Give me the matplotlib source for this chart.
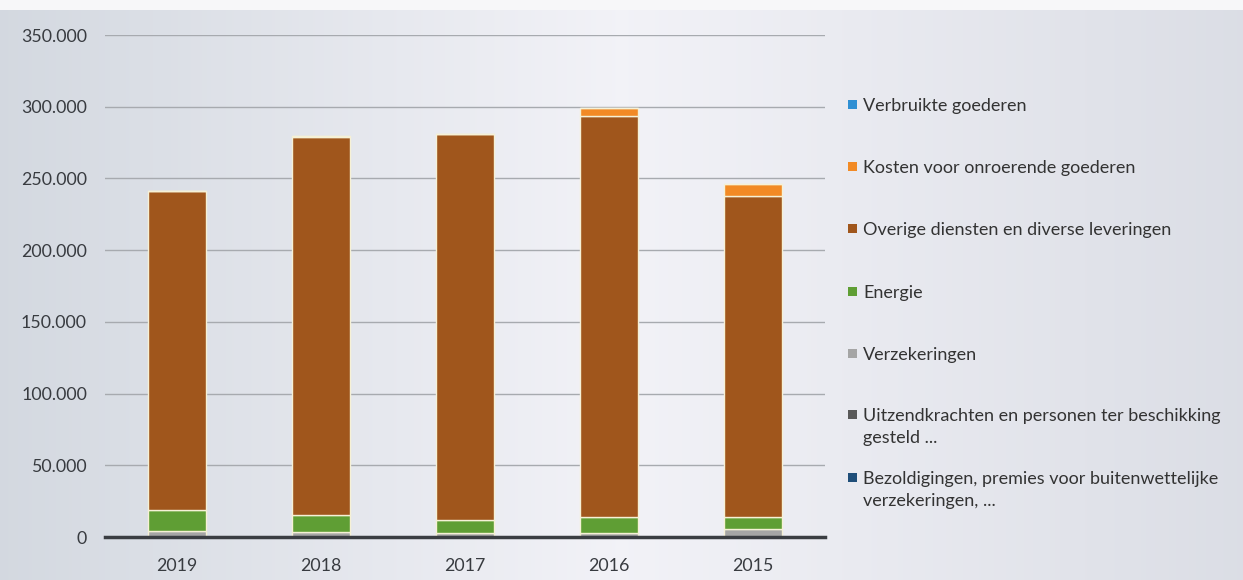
import matplotlib
matplotlib.use("Agg")
import matplotlib.pyplot as plt
from matplotlib.patches import Rectangle
from matplotlib.ticker import FuncFormatter
import numpy as np

plt.rcParams['font.family'] = ['Lato', 'DejaVu Sans']

years = ["2019", "2018", "2017", "2016", "2015"]

# Series listed from the bottom of each stack upward
series_names = [
    "Bezoldigingen, premies voor buitenwettelijke\nverzekeringen, ...",
    "Uitzendkrachten en personen ter beschikking\ngesteld ...",
    "Verzekeringen",
    "Energie",
    "Overige diensten en diverse leveringen",
    "Kosten voor onroerende goederen",
    "Verbruikte goederen",
]
series_colors = ["#1f4e79", "#595959", "#a5a5a5", "#5f9e34", "#a0561c", "#f28a25", "#2f8fd3"]

bezoldigingen = [0, 0, 0, 0, 0]
uitzendkrachten = [0, 0, 0, 0, 0]
verzekeringen = [4500, 3500, 3000, 3000, 5500]
energie = [14300, 11800, 8900, 11200, 8700]
overige = [222500, 263700, 269000, 279000, 223500]
onroerend = [0, 600, 0, 6000, 8500]
verbruikt = [0, 0, 0, 0, 0]

values = [bezoldigingen, uitzendkrachten, verzekeringen, energie, overige, onroerend, verbruikt]

fig = plt.figure(figsize=(12.43, 5.8), dpi=100)
fig.patch.set_facecolor("#e4e7ec")

# Soft paper-like shading behind the chart
bg = fig.add_axes([0, 0, 1, 1], zorder=-10)
bg.axis("off")
xs = np.linspace(0, 1, 400)
left = np.array([0.83, 0.85, 0.88])
mid = np.array([0.95, 0.95, 0.97])
right = np.array([0.86, 0.87, 0.90])
w = np.clip(xs / 0.5, 0, 1)[:, None]
w2 = np.clip((xs - 0.5) / 0.5, 0, 1)[:, None]
row = np.where(xs[:, None] < 0.5, left + (mid - left) * w, mid + (right - mid) * w2)
img = np.repeat(row[None, :, :], 2, axis=0)
bg.imshow(img, aspect="auto", extent=[0, 1, 0, 1], interpolation="bilinear")
bg.add_patch(Rectangle((0, 1 - 10 / 580), 1, 10 / 580, facecolor="#f7f7f9",
                       edgecolor="none", transform=bg.transAxes))
bg.set_xlim(0, 1)
bg.set_ylim(0, 1)

ax = fig.add_axes([105 / 1243, 1 - 537 / 580, 720 / 1243, (537 - 35) / 580])
ax.set_facecolor("none")

x = np.arange(len(years))
bottom = np.zeros(len(years))
for name, vals, col in zip(series_names, values, series_colors):
    v = np.array(vals, dtype=float)
    ax.bar(x, v, bottom=bottom, width=0.4, color=col, edgecolor="#f6f1d6",
           linewidth=1.0, zorder=3)
    bottom += v

ax.set_xlim(-0.5, len(years) - 0.5)
ax.set_ylim(0, 350000)
ax.set_yticks(np.arange(0, 350001, 50000))
ax.yaxis.set_major_formatter(FuncFormatter(lambda v, p: "0" if v == 0 else f"{int(v):,}".replace(",", ".")))
ax.set_xticks(x)
ax.set_xticklabels(years)
ax.tick_params(axis="both", length=0, labelsize=12.8, colors="#383b40")
ax.tick_params(axis="y", pad=13)
ax.tick_params(axis="x", pad=15)
ax.grid(axis="y", color="#a7aaaf", linewidth=1.0, zorder=1)
for s in ["top", "right", "left"]:
    ax.spines[s].set_visible(False)
ax.spines["bottom"].set_color("#3a3d42")
ax.spines["bottom"].set_linewidth(2.5)
ax.spines["bottom"].set_zorder(4)

# Legend, top entry first
legend_y = [105, 167, 229, 292, 354, 415, 478]
for yy, name, col in zip(legend_y, series_names[::-1], series_colors[::-1]):
    fig.patches.append(Rectangle((848 / 1243, 1 - (yy + 4) / 580), 9 / 1243, 9 / 580,
                                 transform=fig.transFigure, facecolor=col, edgecolor="none"))
    fig.text(863 / 1243, 1 - (yy - 7) / 580, name, fontsize=13, color="#333333",
             va="top", ha="left", linespacing=1.45, transform=fig.transFigure)

fig.savefig("out.png", dpi=100, facecolor=fig.get_facecolor())
